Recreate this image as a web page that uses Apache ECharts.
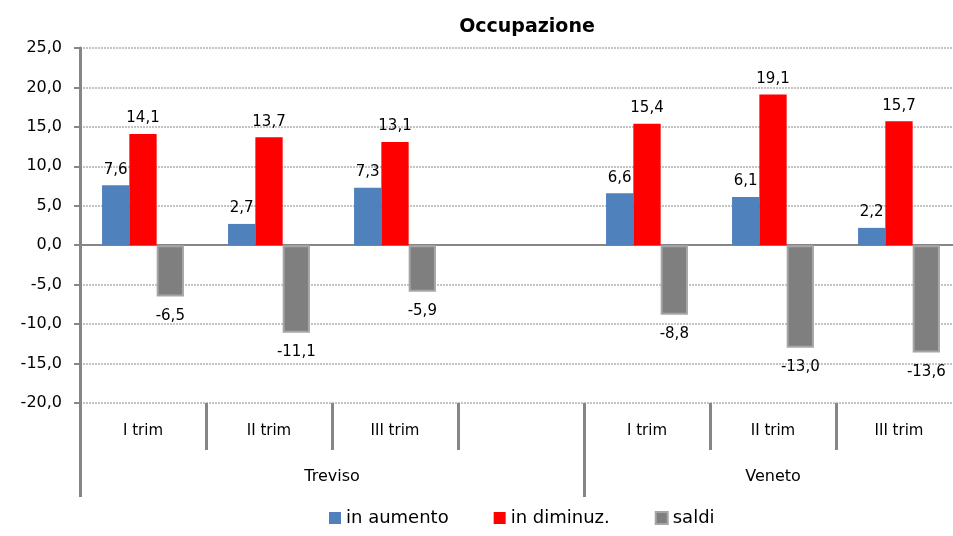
<!DOCTYPE html>
<html><head><meta charset="utf-8">
<script src="https://cdn.jsdelivr.net/npm/echarts@6/dist/echarts.min.js"></script>
<style>html,body{margin:0;padding:0;background:#fff}#c{width:953px;height:536px}</style>
</head><body><div id="c"></div>
<script>
var categories = ['I trim','II trim','III trim','','I trim','II trim','III trim'];
var groups = ['Treviso','Veneto'];
var groupCenters = [2, 5.5];
var groupBounds = [0, 4, 7];
var catCenters = [0.5,1.5,2.5,4.5,5.5,6.5];
var catBounds = [1,2,3,5,6];
var inAumento = [7.6, 2.7, 7.3, null, 6.6, 6.1, 2.2];
var inDiminuz = [14.1, 13.7, 13.1, null, 15.4, 19.1, 15.7];
var saldi = [-6.5, -11.1, -5.9, null, -8.8, -13.0, -13.6];

function fmt(v){ return v.toFixed(1).replace('.', ','); }
var FONT = 'DejaVu Sans';
var lbl = {show:true, position:'top', distance:8, color:'#000', fontFamily:FONT, fontSize:15, formatter:function(p){return fmt(p.value);}};

var chart = echarts.init(document.getElementById('c'));
chart.setOption({
  animation:false,
  title:{text:'Occupazione', left:522, textAlign:'center', top:13, textStyle:{fontFamily:FONT, fontSize:19, fontWeight:'bold', color:'#000'}},
  legend:{bottom:4, left:324, icon:'rect', itemWidth:12, itemHeight:12, itemGap:45,
    textStyle:{fontFamily:FONT, fontSize:18, color:'#000'},
    data:['in aumento','in diminuz.','saldi']},
  grid:{left:80, top:48, width:882, height:355, outerBoundsMode:'none', containLabel:false},
  xAxis:[
    {type:'category', data:categories, axisLine:{onZero:true, lineStyle:{color:'#868686', width:2}},
     axisTick:{length:3, lineStyle:{color:'#868686', width:2}}, axisLabel:{show:false}, splitLine:{show:false}},
    {type:'value', min:0, max:7, position:'bottom', axisLine:{show:false}, splitLine:{show:false},
     axisTick:{show:true, customValues:catBounds, length:47, lineStyle:{color:'#868686', width:3}},
     axisLabel:{show:true, customValues:catCenters, margin:21, fontFamily:FONT, fontSize:15, color:'#000',
       formatter:function(v){ return categories[Math.floor(v)]||''; }}},
    {type:'value', min:0, max:7, position:'bottom', axisLine:{show:false}, splitLine:{show:false},
     axisTick:{show:true, customValues:groupBounds, length:94, lineStyle:{color:'#868686', width:3}},
     axisLabel:{show:true, customValues:groupCenters, margin:66, fontFamily:FONT, fontSize:16, color:'#000',
       formatter:function(v){ return v < 4 ? groups[0] : groups[1]; }}}
  ],
  yAxis:{type:'value', min:-20, max:25, interval:5,
    axisLine:{show:true, lineStyle:{color:'#868686', width:3}},
    axisTick:{show:true, length:6, lineStyle:{color:'#868686', width:2}},
    axisLabel:{fontFamily:FONT, fontSize:16, color:'#000', margin:18, formatter:function(v){return fmt(v);}},
    splitLine:{show:true, lineStyle:{color:'#c4c4c4', width:2, type:[2,1]}}},
  series:[
    {name:'in aumento', type:'bar', data:inAumento, barGap:'0%', barCategoryGap:'35%',
     itemStyle:{color:'#4f81bd'}, label:lbl},
    {name:'in diminuz.', type:'bar', data:inDiminuz, barGap:'0%', barCategoryGap:'35%',
     itemStyle:{color:'#ff0000'}, label:lbl},
    {name:'saldi', type:'bar', data:saldi, barGap:'0%', barCategoryGap:'35%',
     itemStyle:{color:'#7f7f7f', borderColor:'#a6a6a6', borderWidth:2},
     label:Object.assign({}, lbl, {position:'bottom', distance:12})}
  ]
});
</script></body></html>
